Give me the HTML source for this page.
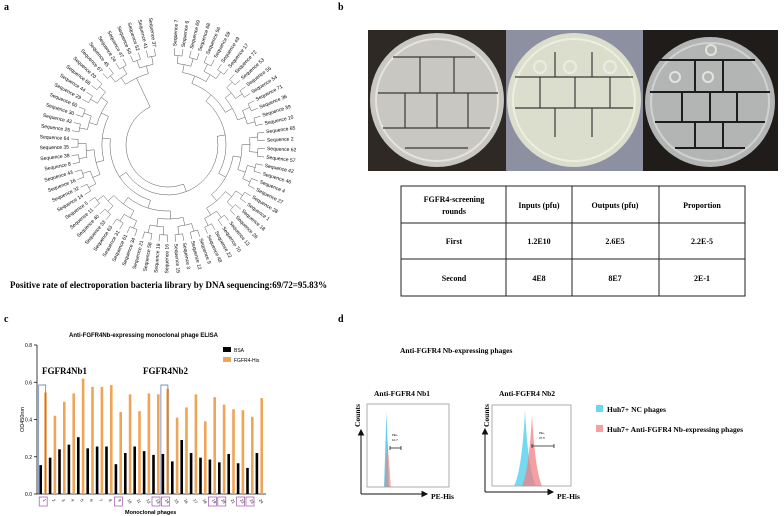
<!DOCTYPE html>
<html><head><meta charset="utf-8"><style>
body{margin:0;background:#fff}
svg{display:block}
.sf{font-family:"Liberation Serif",serif;font-weight:bold}
.ss{font-family:"Liberation Sans",sans-serif}
</style></head><body>
<svg id="fig" width="784" height="516" viewBox="0 0 784 516" xmlns="http://www.w3.org/2000/svg">
<text x="4" y="10" class="sf" font-size="10">a</text>
<text x="338" y="10" class="sf" font-size="10">b</text>
<text x="4" y="322" class="sf" font-size="10">c</text>
<text x="338" y="322" class="sf" font-size="10">d</text>
<g id="tree"></g>
<text x="10" y="288" class="sf" font-size="9">Positive rate of electroporation bacteria library by DNA sequencing:69/72=95.83%</text>

<g>
<rect x="368" y="30" width="138" height="141" fill="#2e2924"/>
<circle cx="437" cy="100" r="67" fill="#c9c7c1"/><circle cx="437" cy="100" r="61" fill="none" stroke="#e5e3dd" stroke-width="2"/>
<rect x="506" y="30" width="137" height="141" fill="#8c90a0"/>
<circle cx="574" cy="100" r="67" fill="#dcdecd"/><circle cx="574" cy="100" r="61" fill="none" stroke="#eceede" stroke-width="2"/>
<rect x="643" y="30" width="135" height="141" fill="#201c1a"/>
<circle cx="710" cy="102" r="65" fill="#b3b5b5"/><circle cx="710" cy="102" r="59" fill="none" stroke="#d0d2d2" stroke-width="2"/>
<g stroke="#3a3838" stroke-width="1.2">
<line x1="393" y1="57" x2="475" y2="57"/><line x1="378" y1="93" x2="498" y2="93"/><line x1="383" y1="128" x2="490" y2="128"/><line x1="405" y1="148" x2="468" y2="148"/>
<line x1="420" y1="57" x2="420" y2="93"/><line x1="454" y1="57" x2="454" y2="93"/><line x1="405" y1="93" x2="405" y2="128"/><line x1="437" y1="93" x2="437" y2="128"/><line x1="468" y1="93" x2="468" y2="128"/>
<line x1="515" y1="77" x2="633" y2="77"/><line x1="515" y1="108" x2="633" y2="108"/><line x1="555" y1="52" x2="555" y2="77"/><line x1="592" y1="52" x2="592" y2="77"/><line x1="540" y1="77" x2="540" y2="108"/><line x1="575" y1="77" x2="575" y2="108"/><line x1="610" y1="77" x2="610" y2="108"/><line x1="555" y1="108" x2="555" y2="137"/><line x1="592" y1="108" x2="592" y2="137"/>
</g>
<g stroke="#1e1c1c" stroke-width="2">
<line x1="655" y1="60" x2="755" y2="60"/><line x1="650" y1="92" x2="770" y2="92"/><line x1="655" y1="122" x2="765" y2="122"/><line x1="675" y1="148" x2="745" y2="148"/>
<line x1="695" y1="60" x2="695" y2="92"/><line x1="723" y1="60" x2="723" y2="92"/><line x1="682" y1="92" x2="682" y2="122"/><line x1="710" y1="92" x2="710" y2="122"/><line x1="737" y1="92" x2="737" y2="122"/><line x1="695" y1="122" x2="695" y2="148"/><line x1="723" y1="122" x2="723" y2="148"/>
</g>
<g fill="none" stroke="#eef0e6" stroke-width="2" opacity="0.8"><circle cx="540" cy="67" r="6"/><circle cx="570" cy="67" r="6"/><circle cx="610" cy="67" r="6"/><circle cx="675" cy="77" r="5"/><circle cx="708" cy="77" r="5"/><circle cx="711" cy="50" r="5"/></g>
</g>

<g class="sf" font-size="8" text-anchor="middle">
<rect x="401" y="186" width="344" height="110" fill="none" stroke="#222" stroke-width="1"/>
<line x1="401" y1="223" x2="745" y2="223" stroke="#222"/><line x1="401" y1="259" x2="745" y2="259" stroke="#222"/>
<line x1="506" y1="186" x2="506" y2="296" stroke="#222"/><line x1="572" y1="186" x2="572" y2="296" stroke="#222"/><line x1="659" y1="186" x2="659" y2="296" stroke="#222"/>
<text x="454" y="202">FGFR4-screening</text><text x="454" y="214">rounds</text>
<text x="539" y="208">Inputs (pfu)</text><text x="615" y="208">Outputs (pfu)</text><text x="702" y="208">Proportion</text>
<text x="454" y="244">First</text><text x="539" y="244">1.2E10</text><text x="615" y="244">2.6E5</text><text x="702" y="244">2.2E-5</text>
<text x="454" y="281">Second</text><text x="539" y="281">4E8</text><text x="615" y="281">8E7</text><text x="702" y="281">2E-1</text>
</g>

<g id="elisa"></g>

<g>
<text x="400" y="353" class="sf" font-size="7.5">Anti-FGFR4 Nb-expressing phages</text>
<text x="374" y="396" class="sf" font-size="7.5">Anti-FGFR4 Nb1</text>
<text x="499" y="396" class="sf" font-size="7.5">Anti-FGFR4 Nb2</text>
<rect x="367" y="404" width="82" height="83" fill="none" stroke="#999" stroke-width="0.8"/>
<rect x="492" y="405" width="79" height="81" fill="none" stroke="#999" stroke-width="0.8"/>
<path d="M384,487 L386.5,412 L389,487 Z" fill="#46c8e8" opacity="0.85"/>
<path d="M384.5,487 L387.5,440 L391,487 Z" fill="#f07f80" opacity="0.6"/>
<path d="M514,486 Q522,470 525,410 Q528,470 536,486 Z" fill="#5ad4f0" opacity="0.85"/>
<path d="M522,486 Q529,470 532,415 Q535,470 542,486 Z" fill="#f07f80" opacity="0.75"/>
<g stroke="#222" stroke-width="0.8"><line x1="390" y1="448" x2="401" y2="448"/><line x1="390" y1="446" x2="390" y2="450"/><line x1="401" y1="446" x2="401" y2="450"/>
<line x1="532" y1="446" x2="554" y2="446"/><line x1="532" y1="444" x2="532" y2="448"/><line x1="554" y1="444" x2="554" y2="448"/></g>
<text x="392" y="436" font-size="3" class="ss">PE+</text><text x="392" y="441" font-size="3" class="ss">10.7</text>
<text x="539" y="434" font-size="3" class="ss">PE+</text><text x="539" y="439" font-size="3" class="ss">37.5</text>
<g stroke="#111" stroke-width="1" fill="#111">
<line x1="361" y1="494" x2="361" y2="433"/><path d="M358.5,435 L361,430 L363.5,435 Z"/>
<line x1="361" y1="494" x2="424" y2="494"/><path d="M422,491.5 L427,494 L422,496.5 Z"/>
<line x1="485" y1="492" x2="485" y2="432"/><path d="M482.5,434 L485,429 L487.5,434 Z"/>
<line x1="485" y1="492" x2="550" y2="492"/><path d="M548,489.5 L553,492 L548,494.5 Z"/>
</g>
<text transform="translate(360,427) rotate(-90)" class="sf" font-size="7.5">Counts</text>
<text transform="translate(489,427) rotate(-90)" class="sf" font-size="7.5">Counts</text>
<text x="431" y="499" class="sf" font-size="7.5">PE-His</text>
<text x="557" y="499" class="sf" font-size="7.5">PE-His</text>
<rect x="596" y="405" width="7" height="7" fill="#6ad8f2"/>
<text x="607" y="412" class="sf" font-size="7.5">Huh7+ NC phages</text>
<rect x="596" y="425" width="7" height="7" fill="#f2a0a0"/>
<text x="607" y="432" class="sf" font-size="7.5">Huh7+ Anti-FGFR4 Nb-expressing phages</text>
</g>
</svg>
<script>
const NS="http://www.w3.org/2000/svg";
function mk(t,a,p){const e=document.createElementNS(NS,t);for(const k in a)e.setAttribute(k,a[k]);p.appendChild(e);return e;}
// ELISA data
const phages=["1","2","3","4","5","6","7","8","9","10","11","12","13","14","15","16","17","18","19","20","21","22","23","24"];
const bsaValues=[0.155,0.195,0.24,0.265,0.305,0.245,0.255,0.255,0.16,0.22,0.255,0.23,0.21,0.215,0.175,0.29,0.22,0.195,0.185,0.17,0.215,0.165,0.14,0.22];
const fgfrValues=[0.545,0.42,0.495,0.54,0.62,0.575,0.575,0.585,0.44,0.535,0.445,0.54,0.535,0.565,0.41,0.465,0.535,0.39,0.52,0.48,0.455,0.45,0.415,0.515];
const yTicks=[0,0.2,0.4,0.6,0.8];
const boxed=["1","9","13","14","19","20","22","23"];
const g=document.getElementById('elisa');
const y0=494,yTop=345,xAxis=37;
const ys=v=>y0-(v/0.8)*(y0-yTop);
const xs=i=>40.7+i*9.4;
mk('line',{x1:xAxis,y1:yTop,x2:xAxis,y2:y0,stroke:'#111','stroke-width':0.8},g);
mk('line',{x1:xAxis,y1:y0,x2:266,y2:y0,stroke:'#111','stroke-width':0.8},g);
yTicks.forEach(t=>{
 mk('line',{x1:xAxis-3,y1:ys(t),x2:xAxis,y2:ys(t),stroke:'#111','stroke-width':0.8},g);
 const tx=mk('text',{x:xAxis-5,y:ys(t)+2,'font-size':5,'text-anchor':'end','class':'ss'},g);
 
 
 tx.textContent=t.toFixed(1);
});
phages.forEach((p,i)=>{
 const b=mk('rect',{x:xs(i)-1.3,y:ys(bsaValues[i]),width:2.6,height:y0-ys(bsaValues[i]),fill:'#000'},g);
 
 
 const o=mk('rect',{x:xs(i)+3.5,y:ys(fgfrValues[i]),width:2.6,height:y0-ys(fgfrValues[i]),fill:'#f0a456'},g);
 
 
 const lx=xs(i)+2,ly=500;
 const t=mk('text',{transform:`translate(${lx},${ly}) rotate(60)`,'font-size':4,'class':'ss'},g);
 
 
 t.textContent=p;
 if(boxed.includes(p)){const r=mk('rect',{x:lx-3.5,y:497,width:8,height:9,fill:'none',stroke:'#a050b0','stroke-width':0.7},g);
 
 }
});
[0,13].forEach(i=>{const p=mk('path',{d:`M${xs(i)-2},${y0} L${xs(i)-2},385 L${xs(i)+5},385 L${xs(i)+5},${y0}`,fill:'none',stroke:'#5070b0','stroke-width':0.7},g);
 
 });
function txt(x,y,s,fs,cls,name,extra){const t=mk('text',Object.assign({x:x,y:y,'font-size':fs,'class':cls},extra||{}),g);t.textContent=s;
 
 return t;}
txt(69,337,'Anti-FGFR4Nb-expressing monoclonal phage ELISA',6,'ss','chart-title',{'font-weight':'bold'});
txt(42,374,'FGFR4Nb1',9,'sf','nb1-label');
txt(143,374,'FGFR4Nb2',9,'sf','nb2-label');
txt(234,352,'BSA',5,'ss','legend-bsa');
txt(234,362,'FGFR4-His',5,'ss','legend-fgfr4');
const l1=mk('rect',{x:223,y:347,width:8,height:5,fill:'#000'},g);
const l2=mk('rect',{x:223,y:357,width:8,height:5,fill:'#f0a456'},g);
txt(125,514,'Monoclonal phages',5.5,'ss','x-axis-title',{'font-weight':'bold'});
const yt=mk('text',{transform:'translate(24,432) rotate(-90)','font-size':5.5,'class':'ss'},g);yt.textContent='OD450nm';



// Tree
const seqs=[7,6,69,68,56,59,49,17,72,53,55,54,71,36,39,10,65,2,62,57,42,46,4,27,28,1,18,26,13,70,22,48,9,12,3,15,16,19,58,21,34,61,31,63,33,40,11,5,14,32,16,43,8,38,35,64,25,43,30,60,29,44,66,20,67,45,24,47,50,52,41,37];
const tg=document.getElementById('tree');
const cx=168,cy=145,n=seqs.length,a0=-86,span=348;
const ang=i=>(a0+span*i/(n-1))*Math.PI/180;
function pt(r,a){return [cx+r*Math.cos(a),cy+r*Math.sin(a)];}
seqs.forEach((s,i)=>{const a=ang(i),deg=a*180/Math.PI;
 const [x,y]=pt(99,a);const flip=Math.cos(a)<0;
 const t=mk('text',{x:x,y:y,'font-size':5,'class':'ss','dominant-baseline':'middle',transform:`rotate(${flip?deg+180:deg},${x},${y})`,'text-anchor':flip?'end':'start'},tg);
 t.textContent='Sequence '+s;
 
 });
let nodes=seqs.map((s,i)=>({a:ang(i),r:97}));
let r=90;
while(nodes.length>1){const nn=[];for(let i=0;i<nodes.length;i+=2){if(i+1<nodes.length){const A=nodes[i],B=nodes[i+1];
 [A,B].forEach(c=>{const [x1,y1]=pt(c.r,c.a),[x2,y2]=pt(r,c.a);mk('line',{x1,y1,x2,y2,stroke:'#555','stroke-width':0.5},tg);});
 const [xa,ya]=pt(r,A.a),[xb,yb]=pt(r,B.a);mk('path',{d:`M${xa},${ya} A${r},${r} 0 ${B.a-A.a>Math.PI?1:0} 1 ${xb},${yb}`,fill:'none',stroke:'#555','stroke-width':0.5},tg);
 nn.push({a:(A.a+B.a)/2,r:r});}else nn.push(nodes[i]);}
 nodes=nn;r-=8;}
</script>
</body></html>
